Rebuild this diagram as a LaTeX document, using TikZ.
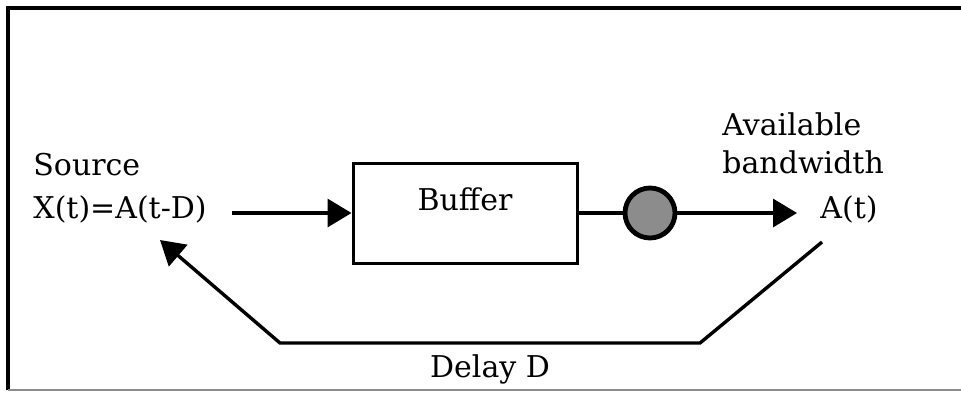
\documentclass[tikz,border=0pt]{standalone}
\usepackage{fontspec}
\setmainfont{DejaVu Serif}
\usetikzlibrary{arrows.meta}

\begin{document}
\begin{tikzpicture}[
    x=0.5pt, y=-0.5pt,
    every node/.style={inner sep=0pt, font=\fontsize{15}{21.5}\selectfont},
    caption/.style={align=left, anchor=north west},
    block/.style={rectangle, draw, line width=1.5pt, minimum width=112pt, minimum height=50pt},
    gate/.style={circle, draw, line width=2.4pt, fill=black!45, minimum size=25pt},
    flow/.style={draw, line width=1.7pt, -{Triangle[length=12pt, width=14pt]}}
]
\useasboundingbox (0,0) rectangle (961,392);

% Frame
\draw[line width=2pt] (961,8) -- (8,8) -- (8,390);
\draw[black!45, line width=0.6pt] (8,390) -- (961,390);

\node[caption] (src) at (33,153) {Source\\X(t)=A(t-D)};
\node[block, label={[anchor=north, label distance=-13pt]north:Buffer}] (buffer) at (465,213) {};
\node[gate] (g) at (650,213) {};
\node[caption, font=\fontsize{15}{19}\selectfont] (avail) at (722,112) {Available\\bandwidth};
\node[anchor=base west] (at) at (820,218) {A(t)};

\coordinate (in) at (232,213);
\coordinate (out) at (797,213);
\coordinate (fb-start) at (822,242);
\coordinate (fb-r) at (700,343);
\coordinate (fb-l) at (280,343);
\coordinate (fb-end) at (160,240);

% Connections
\path[flow] (in) -- (buffer.west);
\draw[line width=1.7pt] (buffer.east) -- (g.west);
\path[flow] (g.east) -- (out);
\path[flow] (fb-start) -- (fb-r) -- node[below=5pt] (delay) {Delay D} (fb-l) -- (fb-end);

\end{tikzpicture}
\end{document}
